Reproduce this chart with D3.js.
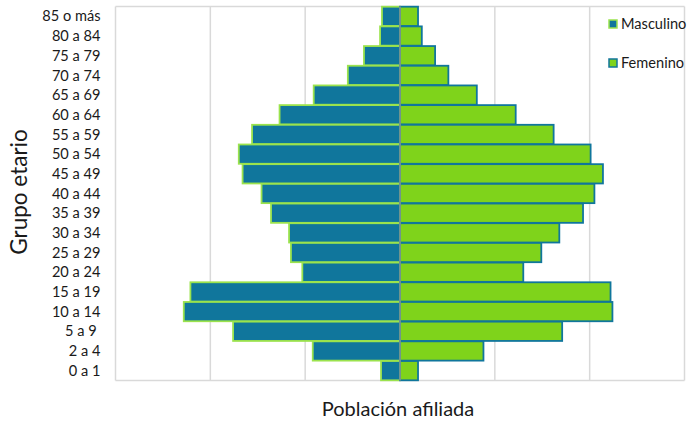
<!DOCTYPE html>
<html><head><meta charset="utf-8">
<script src="https://cdn.jsdelivr.net/npm/d3@7"></script>
<style>body{margin:0;background:#fff;} text{font-family:Lato,"Open Sans",sans-serif;fill:#1a1a1a;}</style>
</head><body>
<svg id="c" width="689" height="421"></svg>
<script>
const categories = ["85 o más","80 a 84","75 a 79","70 a 74","65 a 69","60 a 64","55 a 59","50 a 54","45 a 49","40 a 44","35 a 39","30 a 34","25 a 29","20 a 24","15 a 19","10 a 14","5 a 9 ","2 a 4","0 a 1"];
const masculino = [0.19,0.21,0.38,0.55,0.91,1.27,1.56,1.70,1.66,1.46,1.36,1.17,1.15,1.03,2.21,2.28,1.76,0.92,0.20];
const femenino  = [0.19,0.23,0.37,0.51,0.81,1.22,1.62,2.01,2.14,2.05,1.93,1.68,1.49,1.30,2.22,2.24,1.71,0.88,0.19];
const gridTicks = [-3,-2,-1,0,1,2,3];
const BLUE="#10769C", GREEN="#7FD31B", LIGHTG="#9BE34D";

const svg=d3.select("#c");
const m={l:115.5,r:684.5,t:6.5,b:380.5};
const x=d3.scaleLinear().domain([-3,3]).range([m.l,m.r]);
const y=d3.scaleBand().domain(categories).range([m.t,m.b]).paddingInner(0.02).paddingOuter(0.01);

// grid
svg.append("g").selectAll("line").data(gridTicks).join("line")
 .attr("x1",d=>x(d)).attr("x2",d=>x(d)).attr("y1",m.t).attr("y2",m.b)
 .attr("stroke","#d9d9d9").attr("stroke-width",1.5);
svg.append("line").attr("x1",m.l).attr("x2",m.r).attr("y1",m.t).attr("y2",m.t).attr("stroke","#d9d9d9").attr("stroke-width",1.5);
svg.append("line").attr("x1",m.l).attr("x2",m.r).attr("y1",m.b).attr("y2",m.b).attr("stroke","#d9d9d9").attr("stroke-width",1.5);

// bars
svg.append("g").selectAll("rect").data(categories).join("rect")
 .attr("x",(d,i)=>x(-masculino[i])).attr("width",(d,i)=>x(0)-x(-masculino[i]))
 .attr("y",d=>y(d)).attr("height",y.bandwidth())
 .attr("fill",BLUE).attr("stroke",LIGHTG).attr("stroke-width",1.8);
svg.append("g").selectAll("rect").data(categories).join("rect")
 .attr("x",x(0)).attr("width",(d,i)=>x(femenino[i])-x(0))
 .attr("y",d=>y(d)).attr("height",y.bandwidth())
 .attr("fill",GREEN).attr("stroke",BLUE).attr("stroke-width",1.8);
// center axis
svg.append("line").attr("x1",x(0)).attr("x2",x(0)).attr("y1",m.t).attr("y2",m.b).attr("stroke","#8c9c8c").attr("stroke-width",1.5);

// y labels
const ya=svg.append("g").attr("transform",`translate(${m.l-15},0)`)
 .call(d3.axisLeft(y).tickSize(0).tickPadding(0));
ya.select(".domain").remove();
ya.selectAll("text").style("font-family","Lato, sans-serif").style("font-size","14.6px").style("white-space","pre")
 .attr("fill","#1a1a1a").attr("dy","0.35em");

svg.append("text").attr("transform","translate(27,192) rotate(-90)").attr("text-anchor","middle")
 .style("font-size","22.5px").text("Grupo etario");
svg.append("text").attr("x",398).attr("y",416).attr("text-anchor","middle")
 .style("font-size","20px").text("Población afiliada");

// legend
const leg=[{n:"Masculino",f:BLUE,s:LIGHTG,y:20},{n:"Femenino",f:GREEN,s:BLUE,y:59}];
const lg=svg.append("g");
lg.selectAll("rect").data(leg).join("rect").attr("x",609).attr("y",d=>d.y).attr("width",8).attr("height",8)
 .attr("fill",d=>d.f).attr("stroke",d=>d.s).attr("stroke-width",1.5);
lg.selectAll("text").data(leg).join("text").attr("x",621).attr("y",d=>d.y+4).attr("dy","0.35em")
 .style("font-size","14.6px").text(d=>d.n);
</script>
</body></html>
